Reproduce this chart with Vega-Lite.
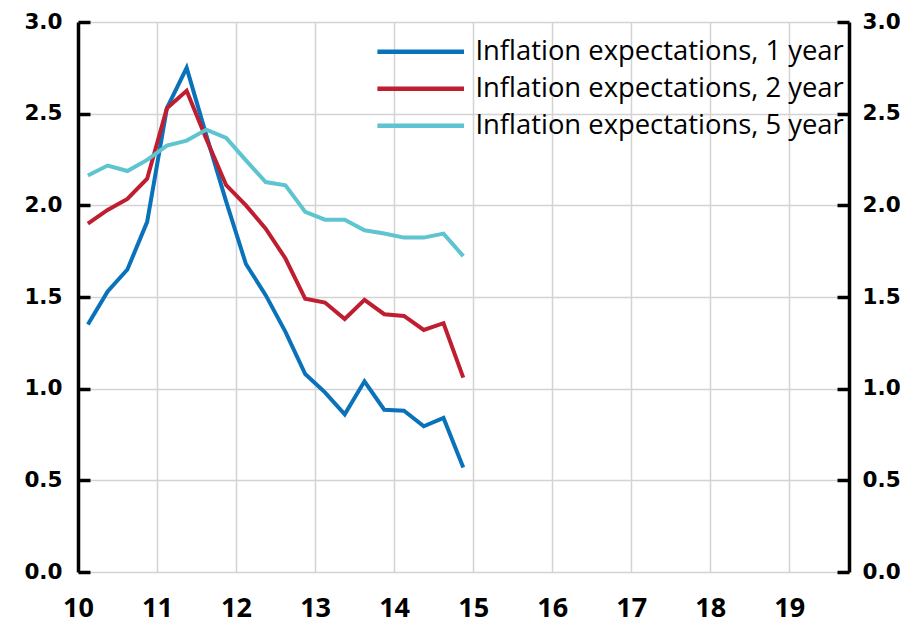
{
  "$schema": "https://vega.github.io/schema/vega-lite/v6.json",
  "autosize": "none",
  "width": 771,
  "height": 550,
  "padding": {"left": 78, "top": 22, "right": 68, "bottom": 52},
  "background": "white",
  "config": {
    "view": {"stroke": null},
    "axis": {"gridColor": "#d3d3d3", "gridWidth": 1.5}
  },
  "data": {
    "values": [
      {"t": 10.125, "s": "Inflation expectations, 1 year", "v": 1.35},
      {"t": 10.375, "s": "Inflation expectations, 1 year", "v": 1.53},
      {"t": 10.625, "s": "Inflation expectations, 1 year", "v": 1.65},
      {"t": 10.875, "s": "Inflation expectations, 1 year", "v": 1.91},
      {"t": 11.125, "s": "Inflation expectations, 1 year", "v": 2.53},
      {"t": 11.375, "s": "Inflation expectations, 1 year", "v": 2.75},
      {"t": 11.625, "s": "Inflation expectations, 1 year", "v": 2.38},
      {"t": 11.875, "s": "Inflation expectations, 1 year", "v": 2.02},
      {"t": 12.125, "s": "Inflation expectations, 1 year", "v": 1.68},
      {"t": 12.375, "s": "Inflation expectations, 1 year", "v": 1.51},
      {"t": 12.625, "s": "Inflation expectations, 1 year", "v": 1.31},
      {"t": 12.875, "s": "Inflation expectations, 1 year", "v": 1.08},
      {"t": 13.125, "s": "Inflation expectations, 1 year", "v": 0.98},
      {"t": 13.375, "s": "Inflation expectations, 1 year", "v": 0.86},
      {"t": 13.625, "s": "Inflation expectations, 1 year", "v": 1.04},
      {"t": 13.875, "s": "Inflation expectations, 1 year", "v": 0.885},
      {"t": 14.125, "s": "Inflation expectations, 1 year", "v": 0.88},
      {"t": 14.375, "s": "Inflation expectations, 1 year", "v": 0.795},
      {"t": 14.625, "s": "Inflation expectations, 1 year", "v": 0.84},
      {"t": 14.875, "s": "Inflation expectations, 1 year", "v": 0.57},
      {"t": 10.125, "s": "Inflation expectations, 2 year", "v": 1.9},
      {"t": 10.375, "s": "Inflation expectations, 2 year", "v": 1.975},
      {"t": 10.625, "s": "Inflation expectations, 2 year", "v": 2.035},
      {"t": 10.875, "s": "Inflation expectations, 2 year", "v": 2.145},
      {"t": 11.125, "s": "Inflation expectations, 2 year", "v": 2.53},
      {"t": 11.375, "s": "Inflation expectations, 2 year", "v": 2.625},
      {"t": 11.625, "s": "Inflation expectations, 2 year", "v": 2.36},
      {"t": 11.875, "s": "Inflation expectations, 2 year", "v": 2.11},
      {"t": 12.125, "s": "Inflation expectations, 2 year", "v": 2.0},
      {"t": 12.375, "s": "Inflation expectations, 2 year", "v": 1.873},
      {"t": 12.625, "s": "Inflation expectations, 2 year", "v": 1.71},
      {"t": 12.875, "s": "Inflation expectations, 2 year", "v": 1.49},
      {"t": 13.125, "s": "Inflation expectations, 2 year", "v": 1.47},
      {"t": 13.375, "s": "Inflation expectations, 2 year", "v": 1.38},
      {"t": 13.625, "s": "Inflation expectations, 2 year", "v": 1.484},
      {"t": 13.875, "s": "Inflation expectations, 2 year", "v": 1.406},
      {"t": 14.125, "s": "Inflation expectations, 2 year", "v": 1.397},
      {"t": 14.375, "s": "Inflation expectations, 2 year", "v": 1.32},
      {"t": 14.625, "s": "Inflation expectations, 2 year", "v": 1.357},
      {"t": 14.875, "s": "Inflation expectations, 2 year", "v": 1.06},
      {"t": 10.125, "s": "Inflation expectations, 5 year", "v": 2.163},
      {"t": 10.375, "s": "Inflation expectations, 5 year", "v": 2.217},
      {"t": 10.625, "s": "Inflation expectations, 5 year", "v": 2.187},
      {"t": 10.875, "s": "Inflation expectations, 5 year", "v": 2.248},
      {"t": 11.125, "s": "Inflation expectations, 5 year", "v": 2.326},
      {"t": 11.375, "s": "Inflation expectations, 5 year", "v": 2.353},
      {"t": 11.625, "s": "Inflation expectations, 5 year", "v": 2.413},
      {"t": 11.875, "s": "Inflation expectations, 5 year", "v": 2.368},
      {"t": 12.125, "s": "Inflation expectations, 5 year", "v": 2.245},
      {"t": 12.375, "s": "Inflation expectations, 5 year", "v": 2.127},
      {"t": 12.625, "s": "Inflation expectations, 5 year", "v": 2.109},
      {"t": 12.875, "s": "Inflation expectations, 5 year", "v": 1.964},
      {"t": 13.125, "s": "Inflation expectations, 5 year", "v": 1.922},
      {"t": 13.375, "s": "Inflation expectations, 5 year", "v": 1.922},
      {"t": 13.625, "s": "Inflation expectations, 5 year", "v": 1.864},
      {"t": 13.875, "s": "Inflation expectations, 5 year", "v": 1.846},
      {"t": 14.125, "s": "Inflation expectations, 5 year", "v": 1.824},
      {"t": 14.375, "s": "Inflation expectations, 5 year", "v": 1.824},
      {"t": 14.625, "s": "Inflation expectations, 5 year", "v": 1.846},
      {"t": 14.875, "s": "Inflation expectations, 5 year", "v": 1.723}
    ]
  },
  "resolve": {"axis": {"y": "independent"}},
  "layer": [
    {
      "mark": {"type": "line", "strokeWidth": 4, "clip": true},
      "encoding": {
        "x": {
          "field": "t", "type": "quantitative",
          "scale": {"domain": [10, 19.756], "nice": false, "zero": false},
          "axis": {
            "title": null, "values": [10, 11, 12, 13, 14, 15, 16, 17, 18, 19],
            "format": "d", "domain": false, "ticks": false, "grid": true,
            "labelFlush": false,
            "labelFont": "Open Sans", "labelFontWeight": "bold",
            "labelFontSize": 27, "labelColor": "black", "labelPadding": 23
          }
        },
        "y": {
          "field": "v", "type": "quantitative",
          "scale": {"domain": [0, 3], "nice": false},
          "axis": {
            "title": null, "orient": "left", "values": [0, 0.5, 1, 1.5, 2, 2.5, 3],
            "format": ".1f", "grid": true,
            "domainColor": "black", "domainWidth": 3.5,
            "tickColor": "black", "tickWidth": 3.5, "tickSize": -12,
            "labelFont": "DejaVu Sans", "labelFontWeight": "bold",
            "labelFontSize": 21.5, "labelColor": "black", "labelPadding": 28
          }
        },
        "color": {
          "field": "s", "type": "nominal",
          "scale": {"range": ["#0A72BA", "#BF1E31", "#5EC4D0"]},
          "legend": {
            "title": null, "orient": "none", "legendX": 329, "legendY": 16,
            "symbolType": "M-5,0L5,0", "symbolSize": 300, "symbolStrokeWidth": 4.5,
            "labelFont": "Open Sans", "labelFontSize": 27.4, "labelColor": "black",
            "labelOffset": 41, "rowPadding": 8, "padding": 0, "labelLimit": 600
          }
        }
      }
    },
    {
      "mark": {"type": "point", "opacity": 0},
      "encoding": {
        "x": {"field": "t", "type": "quantitative"},
        "y": {
          "field": "v", "type": "quantitative",
          "axis": {
            "title": null, "orient": "right", "values": [0, 0.5, 1, 1.5, 2, 2.5, 3],
            "format": ".1f", "grid": false,
            "domainColor": "black", "domainWidth": 3.5,
            "tickColor": "black", "tickWidth": 3.5, "tickSize": -12,
            "labelFont": "DejaVu Sans", "labelFontWeight": "bold",
            "labelFontSize": 21.5, "labelColor": "black", "labelPadding": 25
          }
        }
      }
    }
  ]
}
